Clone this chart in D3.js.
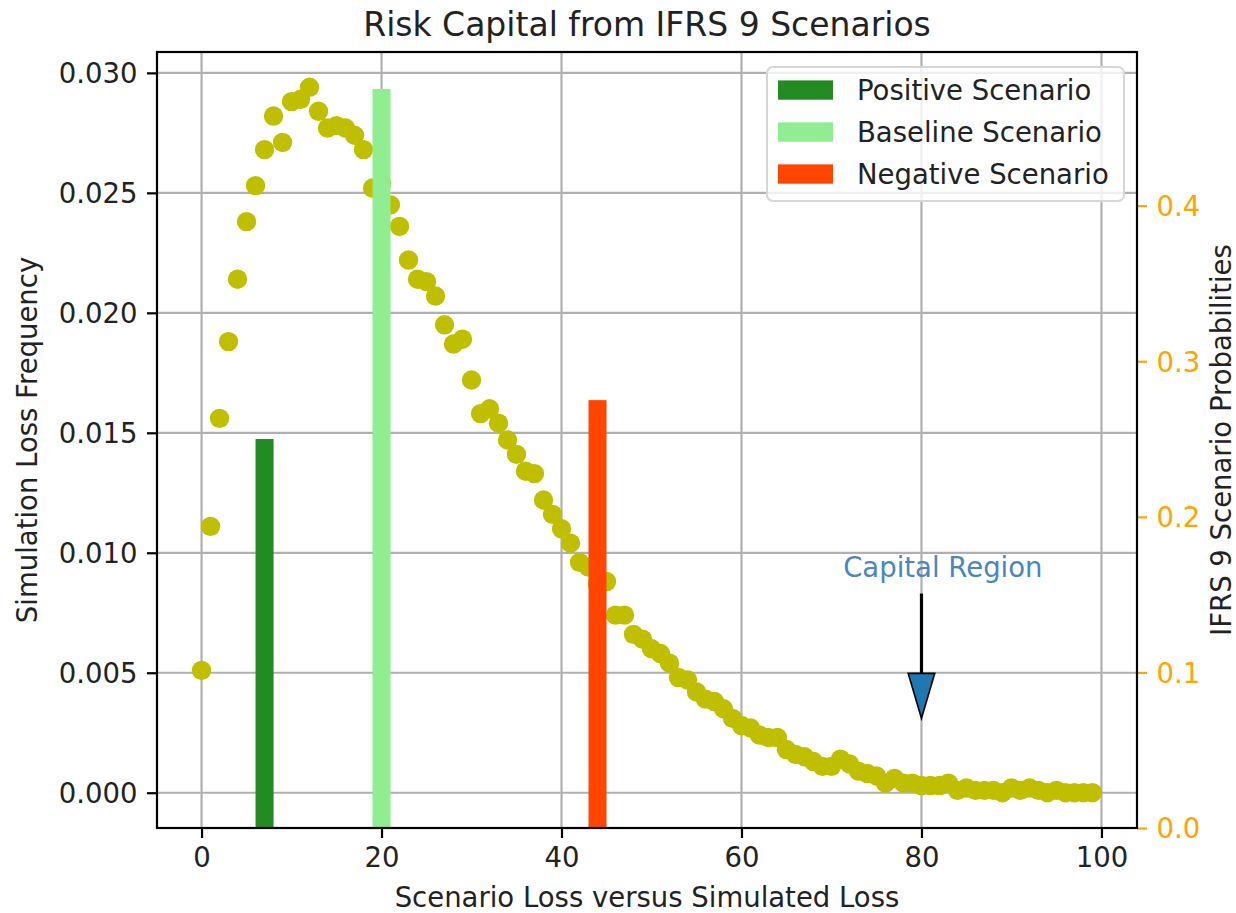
<!DOCTYPE html>
<meta charset="utf-8">
<script src="https://d3js.org/d3.v7.min.js"></script>
<style>
body { margin: 0; background: white; }
text { font-family: "DejaVu Sans", sans-serif; }
</style>
<div id="chart"></div>
<script>

// simulated loss frequency, one value per loss bucket 0..99
var lossValues = [
  0.0051, 0.0111, 0.0156, 0.0188, 0.0214, 0.0238, 0.0253, 0.0268, 0.0282, 0.0271,
  0.0288, 0.0289, 0.0294, 0.0284, 0.0277, 0.0278, 0.0277, 0.0274, 0.0268, 0.0252,
  0.0254, 0.0245, 0.0236, 0.0222, 0.0214, 0.0213, 0.0207, 0.0195, 0.0187, 0.0189,
  0.0172, 0.0158, 0.0160, 0.0154, 0.0147, 0.0141, 0.0134, 0.0133, 0.0122, 0.0116,
  0.0110, 0.0104, 0.0096, 0.0094, 0.0087, 0.0088, 0.0074, 0.0074, 0.0066, 0.0064,
  0.0060, 0.0058, 0.0054, 0.0048, 0.0047, 0.0042, 0.0039, 0.0038, 0.0035, 0.0031,
  0.0028, 0.0027, 0.0024, 0.0023, 0.0023, 0.0018, 0.0016, 0.0015, 0.0013, 0.0011,
  0.0011, 0.0014, 0.0012, 0.0009, 0.0008, 0.0007, 0.0004, 0.0006, 0.0004, 0.0004,
  0.0003, 0.0003, 0.0003, 0.0004, 0.0001, 0.0002, 0.0001, 0.0001, 0.0001, 0.0000,
  0.0002, 0.0001, 0.0002, 0.0001, 0.0000, 0.0001, 0.0000, 0.0000, 0.0000, 0.0000
];
var lossBuckets = d3.range(lossValues.length);

// IFRS 9 scenarios
var scenarioNames = ["Positive Scenario", "Baseline Scenario", "Negative Scenario"];
var scenarioLoss = [7, 20, 44];
var scenarioProb = [0.25, 0.475, 0.275];
var scenarioColors = ["#228b22", "#90ee90", "#ff4500"];

var xTicks = [0, 20, 40, 60, 80, 100];
var yLeftTicks = [0, 0.005, 0.01, 0.015, 0.02, 0.025, 0.03];
var yRightTicks = [0, 0.1, 0.2, 0.3, 0.4];

var arrowAt = {x: 80, from: 0.0083, to: 0.0031};
var noteText = "Capital Region";

var W = 1236, H = 913;
var margin = {top: 52, right: 99, bottom: 85, left: 157},
    width = W - margin.left - margin.right,
    height = H - margin.top - margin.bottom;
var fs = 27.5;

var svg = d3.select("#chart").append("svg")
    .attr("width", W).attr("height", H);
var g = svg.append("g")
    .attr("transform", "translate(" + margin.left + "," + margin.top + ")");

var x = d3.scaleLinear().domain([-4.95, 103.95]).range([0, width]);
var yMax = d3.max(lossValues);
var y = d3.scaleLinear().domain([-0.05 * yMax, 1.05 * yMax]).range([height, 0]);
var y2 = d3.scaleLinear().domain([0, 1.05 * d3.max(scenarioProb)]).range([height, 0]);

// grid
g.append("g").selectAll("line").data(xTicks).enter().append("line")
    .attr("x1", function(d) { return x(d); }).attr("x2", function(d) { return x(d); })
    .attr("y1", 0).attr("y2", height)
    .attr("stroke", "#b0b0b0").attr("stroke-width", 2.2);
g.append("g").selectAll("line").data(yLeftTicks).enter().append("line")
    .attr("y1", function(d) { return y(d); }).attr("y2", function(d) { return y(d); })
    .attr("x1", 0).attr("x2", width)
    .attr("stroke", "#b0b0b0").attr("stroke-width", 2.2);

// dots
g.append("g").selectAll("circle").data(lossBuckets).enter().append("circle")
    .attr("cx", function(d) { return x(d); })
    .attr("cy", function(d) { return y(lossValues[d]); })
    .attr("r", 9.7)
    .attr("fill", "#bfbf00");

// scenario bars (twin axis, drawn on top)
g.append("g").selectAll("rect").data(scenarioNames).enter().append("rect")
    .attr("x", function(d, i) { return x(scenarioLoss[i] - 1); })
    .attr("width", x(2) - x(0))
    .attr("y", function(d, i) { return y2(scenarioProb[i]); })
    .attr("height", function(d, i) { return height - y2(scenarioProb[i]); })
    .attr("fill", function(d, i) { return scenarioColors[i]; });

// annotation: black shaft, blue head
var ax = x(arrowAt.x), ay0 = y(arrowAt.from), ay1 = y(arrowAt.to);
var headW = 13.3, headL = 45;
g.append("line")
    .attr("x1", ax).attr("x2", ax).attr("y1", ay0).attr("y2", ay1 - headL)
    .attr("stroke", "black").attr("stroke-width", 3.2);
g.append("path")
    .attr("d", "M" + (ax - headW) + "," + (ay1 - headL) + "L" + (ax + headW) + "," + (ay1 - headL) +
      "L" + ax + "," + ay1 + "Z")
    .attr("fill", "#1f77b4").attr("stroke", "black").attr("stroke-width", 1.6);
g.append("text")
    .attr("x", x(71.3)).attr("y", y(0.009))
    .attr("fill", "#4a86bd").style("font-size", fs + "px")
    .text(noteText);

// axes
var xAxis = g.append("g").attr("transform", "translate(0," + height + ")")
    .call(d3.axisBottom(x).tickValues(xTicks).tickSize(10).tickSizeOuter(0).tickPadding(9.6));
var yAxis = g.append("g")
    .call(d3.axisLeft(y).tickValues(yLeftTicks).tickFormat(d3.format(".3f"))
      .tickSize(10).tickSizeOuter(0).tickPadding(9.6));
var yAxis2 = g.append("g").attr("transform", "translate(" + width + ",0)")
    .call(d3.axisRight(y2).tickValues(yRightTicks).tickFormat(d3.format(".1f"))
      .tickSize(10).tickSizeOuter(0).tickPadding(9.6));

[xAxis, yAxis, yAxis2].forEach(function(a) {
  a.select(".domain").remove();
  a.selectAll("text").style("font-size", fs + "px").attr("font-family", null);
  a.selectAll("line").attr("stroke-width", 2.2);
});
xAxis.selectAll("text").attr("fill", "#222");
yAxis.selectAll("text").attr("fill", "#222").attr("dy", "0.36em");
yAxis2.selectAll("text").attr("fill", "#ffa500").attr("dy", "0.36em");
yAxis2.selectAll("line").attr("stroke", "#ffa500");

// spines
g.append("rect").attr("width", width).attr("height", height)
    .attr("fill", "none").attr("stroke", "black").attr("stroke-width", 2.2);

// titles
svg.append("text").attr("x", margin.left + width / 2).attr("y", 36)
    .attr("text-anchor", "middle").style("font-size", "33px").attr("fill", "#222")
    .text("Risk Capital from IFRS 9 Scenarios");
svg.append("text").attr("x", margin.left + width / 2).attr("y", 907)
    .attr("text-anchor", "middle").style("font-size", fs + "px").attr("fill", "#222")
    .text("Scenario Loss versus Simulated Loss");
svg.append("text").attr("transform", "translate(37," + (margin.top + height / 2) + ") rotate(-90)")
    .attr("text-anchor", "middle").style("font-size", fs + "px").attr("fill", "#222")
    .text("Simulation Loss Frequency");
svg.append("text").attr("transform", "translate(1231," + (margin.top + height / 2) + ") rotate(-90)")
    .attr("text-anchor", "middle").style("font-size", fs + "px").attr("fill", "#222")
    .text("IFRS 9 Scenario Probabilities");

// legend
var lg = svg.append("g").attr("transform", "translate(767,67)");
lg.append("rect").attr("width", 357).attr("height", 134).attr("rx", 6)
    .attr("fill", "white").attr("fill-opacity", 0.8)
    .attr("stroke", "#d6d6d6").attr("stroke-width", 2);
var rows = lg.selectAll("g.row").data(scenarioNames).enter().append("g")
    .attr("class", "row")
    .attr("transform", function(d, i) { return "translate(0," + (23 + i * 42) + ")"; });
rows.append("rect").attr("x", 11).attr("y", -9.6).attr("width", 55).attr("height", 19.3)
    .attr("fill", function(d, i) { return scenarioColors[i]; });
rows.append("text").attr("x", 90).attr("y", 9.5)
    .style("font-size", fs + "px").attr("fill", "#222")
    .text(function(d) { return d; });

</script>
